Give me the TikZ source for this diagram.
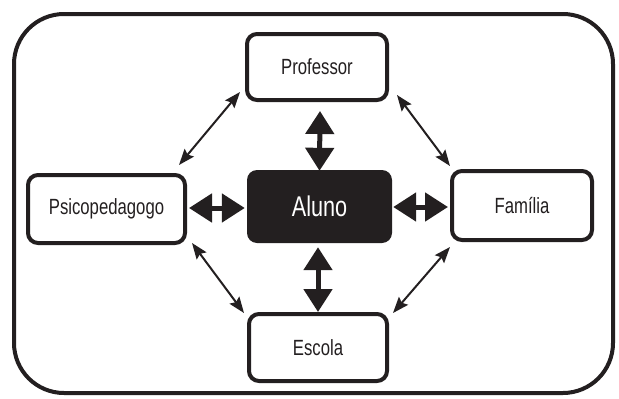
\documentclass[tikz,border=0pt]{standalone}
\usepackage{fontspec}
\setmainfont{Liberation Sans}
\newfontfamily\labfont[FakeStretch=0.76]{Liberation Sans}
\usetikzlibrary{arrows.meta,calc}
\definecolor{ink}{HTML}{231F20}
\begin{document}
\begin{tikzpicture}[x=1pt,y=-1pt,
  box/.style={draw=ink, line width=4pt, rounded corners=10pt, inner sep=0pt,
    font=\labfont\fontsize{22}{24}\selectfont, text=ink},
  centerbox/.style={fill=ink, rounded corners=10pt, inner sep=0pt,
    minimum width=145pt, minimum height=73pt,
    font=\labfont\fontsize{28.5}{30}\selectfont, text=white},
  bigarrow/.style={draw=ink, line width=5pt,
    {Triangle[length=23pt,width=28pt]}-{Triangle[length=23pt,width=28pt]}},
  thinarrow/.style={draw=ink, line width=2pt,
    {Stealth[length=16pt,width=12pt,inset=2.5pt]}-{Stealth[length=16pt,width=12pt,inset=2.5pt]}},
  frame/.style={draw=ink, line width=4pt, rounded corners=50pt}]
\useasboundingbox (0,0) rectangle (619,399);
\draw[frame] (14,14) rectangle (613,393);
\node[box, minimum width=140pt, minimum height=66pt] (prof) at (317,67) {Professor};
\node[box, minimum width=157pt, minimum height=68pt] (psico) at (106.5,209) {Psicopedagogo};
\node[box, minimum width=140pt, minimum height=69pt] (fam) at (522,205.5) {Família};
\node[box, minimum width=138pt, minimum height=67pt] (esc) at (318,347.5) {Escola};
\node[centerbox] (aluno) at (319.5,206.5) {Aluno};
% thick arrows
\draw[bigarrow] ($(prof.south)+(3,9)$) -- ($(aluno.north)+(0,1)$);
\draw[bigarrow] ($(aluno.south)+(-1.5,4)$) -- ($(esc.north)+(0,0)$);
\draw[bigarrow] ($(psico.east)+(2,-1)$) -- ($(aluno.west)+(-2,1.5)$);
\draw[bigarrow] ($(aluno.east)+(1,0.5)$) -- ($(fam.west)+(-2,1.5)$);
% thin arrows
\draw[thinarrow] ($(prof.south west)+(-5,-10)$) -- ($(psico.north east)+(-8,-8)$);
\draw[thinarrow] ($(prof.south east)+(8,-7)$) -- ($(fam.north west)+(0,-3)$);
\draw[thinarrow] ($(psico.south east)+(5,-2)$) -- ($(esc.north west)+(-3,1)$);
\draw[thinarrow] ($(fam.south west)+(0,5)$) -- ($(esc.north east)+(4,1)$);
\end{tikzpicture}
\end{document}
